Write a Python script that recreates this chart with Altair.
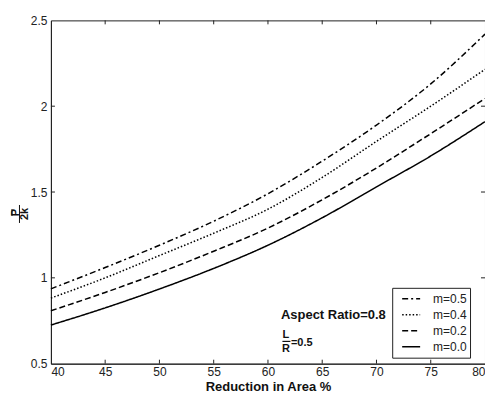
import altair as alt
import pandas as pd

# ---- data ----
reduction = [40, 45, 50, 55, 60, 65, 70, 75, 80]
m_labels = ["m=0.5", "m=0.4", "m=0.2", "m=0.0"]
m05 = [0.936, 1.06, 1.19, 1.33, 1.49, 1.68, 1.89, 2.13, 2.42]
m04 = [0.882, 1.00, 1.13, 1.26, 1.40, 1.585, 1.795, 2.00, 2.215]
m02 = [0.808, 0.915, 1.03, 1.155, 1.29, 1.455, 1.64, 1.84, 2.045]
m00 = [0.725, 0.825, 0.935, 1.055, 1.19, 1.35, 1.53, 1.71, 1.91]
x_ticks = [40, 45, 50, 55, 60, 65, 70, 75, 80]
y_ticks = [0.5, 1, 1.5, 2, 2.5]

series = {"m=0.5": m05, "m=0.4": m04, "m=0.2": m02, "m=0.0": m00}
rows = []
for lab, vals in series.items():
    for x, y in zip(reduction, vals):
        rows.append({"x": x, "y": y, "m": lab})
df = pd.DataFrame(rows)

FONT = "Liberation Sans"
W, H = 435, 344

xs = alt.Scale(domain=[40, 80], nice=False, zero=False)
ys = alt.Scale(domain=[0.5, 2.5], nice=False, zero=False)

dash_range = [[6, 3, 2, 3], [1.5, 2], [6, 3], [1, 0]]

lines = alt.Chart(df).mark_line(color="black", strokeWidth=1.5, interpolate="monotone").encode(
    x=alt.X("x:Q", scale=xs,
            axis=alt.Axis(values=x_ticks, tickSize=0, labelPadding=3, grid=False,
                          title="Reduction in Area %", titleFontWeight="bold",
                          titleFontSize=13, titlePadding=3, labelFontSize=12,
                          format="~g")),
    y=alt.Y("y:Q", scale=ys,
            axis=alt.Axis(values=y_ticks, tickSize=0, labelPadding=4, grid=False,
                          title=None, labelFontSize=12, format="~g")),
    strokeDash=alt.StrokeDash("m:N",
                              scale=alt.Scale(domain=m_labels, range=dash_range),
                              sort=m_labels,
                              legend=alt.Legend(title=None, orient="none",
                                                legendX=342, legendY=268,
                                                fillColor="white", strokeColor="#222",
                                                padding=3, symbolOffset=6,
                                                symbolType="stroke", symbolSize=324,
                                                symbolStrokeWidth=1.5,
                                                symbolStrokeColor="black",
                                                labelOffset=12, labelFontSize=12,
                                                labelFont=FONT, labelColor="#222",
                                                clipHeight=16, rowPadding=0,
                                                labelExpr="datum.label + '      '")),
)

# inward tick marks on all four sides
xt = pd.DataFrame({"v": x_ticks[1:-1]})
yt = pd.DataFrame({"v": y_ticks[1:-1]})
tick_col = "#222"
bot = alt.Chart(xt).mark_rule(color=tick_col).encode(
    x=alt.X("v:Q", scale=xs), y=alt.datum(0.5), y2=alt.datum(0.523))
top = alt.Chart(xt).mark_rule(color=tick_col).encode(
    x=alt.X("v:Q", scale=xs), y=alt.datum(2.5), y2=alt.datum(2.477))
left = alt.Chart(yt).mark_rule(color=tick_col).encode(
    y=alt.Y("v:Q", scale=ys), x=alt.datum(40), x2=alt.datum(40.37))
right = alt.Chart(yt).mark_rule(color=tick_col).encode(
    y=alt.Y("v:Q", scale=ys), x=alt.datum(80), x2=alt.datum(79.63))

# annotations
aspect = alt.Chart().mark_text(text="Aspect Ratio=0.8", font=FONT, fontSize=13,
                               fontWeight="bold", align="left", baseline="middle",
                               color="#111").encode(x=alt.value(230.5), y=alt.value(295))
L_txt = alt.Chart().mark_text(text="L", font=FONT, fontSize=11, fontWeight="bold",
                              align="center", baseline="middle", color="#111").encode(
    x=alt.value(235.5), y=alt.value(315.5))
R_txt = alt.Chart().mark_text(text="R", font=FONT, fontSize=11, fontWeight="bold",
                              align="center", baseline="middle", color="#111").encode(
    x=alt.value(235.5), y=alt.value(329))
LR_bar = alt.Chart().mark_rule(color="#111", strokeWidth=1.2).encode(
    x=alt.value(232), x2=alt.value(240), y=alt.value(321.7))
eq_txt = alt.Chart().mark_text(text="=0.5", font=FONT, fontSize=11, fontWeight="bold",
                               align="left", baseline="middle", color="#111").encode(
    x=alt.value(240.5), y=alt.value(323.5))

# y-axis title: fraction P-bar over 2k, rotated (reads bottom to top)
P_txt = alt.Chart().mark_text(text="P", font=FONT, fontSize=11, fontWeight="bold",
                              angle=270, align="center", baseline="middle",
                              color="#111").encode(x=alt.value(-35), y=alt.value(192.5))
P_bar = alt.Chart().mark_rule(color="#111", strokeWidth=1).encode(
    x=alt.value(-39), y=alt.value(189), y2=alt.value(196))
frac_bar = alt.Chart().mark_rule(color="#111", strokeWidth=1).encode(
    x=alt.value(-31.5), y=alt.value(185), y2=alt.value(203))
k_txt = alt.Chart().mark_text(text="2k", font=FONT, fontSize=11, fontWeight="bold",
                              angle=270, align="center", baseline="middle",
                              color="#111").encode(x=alt.value(-26), y=alt.value(194))

chart = alt.layer(
    lines, bot, top, left, right,
    aspect, L_txt, R_txt, LR_bar, eq_txt,
    P_txt, P_bar, frac_bar, k_txt,
).properties(
    width=W, height=H,
    autosize=alt.AutoSizeParams(type="none"),
    padding={"left": 43, "top": 12, "right": 0, "bottom": 33},
    background="white",
).configure_view(
    stroke="#222", strokeWidth=1
).configure_axis(
    labelFont=FONT, titleFont=FONT, labelColor="#222", titleColor="#111",
    domainColor="#222", domainWidth=1
)

chart.save("out.html", embed_options={"renderer": "svg", "actions": False})
